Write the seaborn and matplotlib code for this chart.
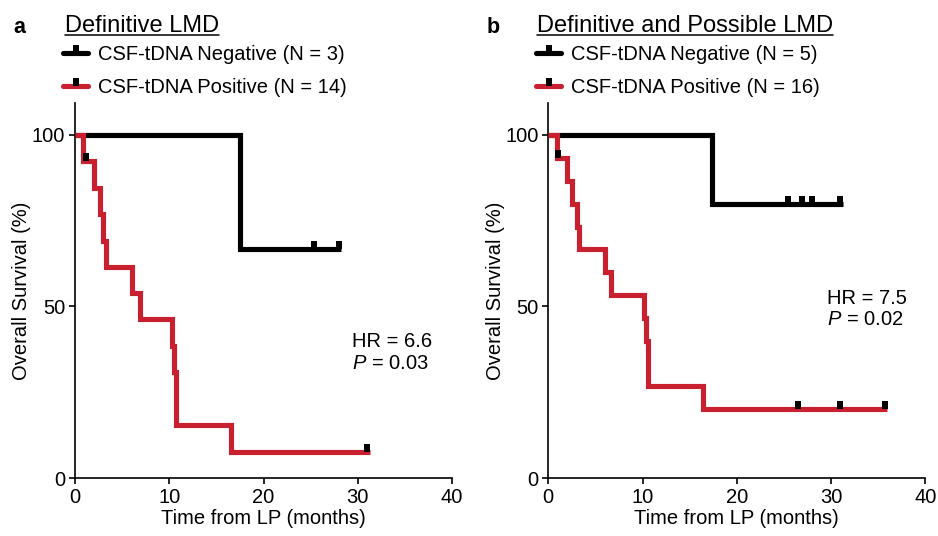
import numpy as np
import pandas as pd
import matplotlib
matplotlib.use("Agg")
import matplotlib.pyplot as plt
import seaborn as sns
from matplotlib.lines import Line2D

# ---------------------------------------------------------------
# Kaplan-Meier curves (time in months, survival %)
# ---------------------------------------------------------------
# panel a - Definitive LMD
a_neg_t = [0, 17.5, 28.2]
a_neg_s = [100, 66.7, 66.7]
a_neg_cens_t = [25.4, 28.0]
a_neg_cens_s = [66.7, 66.7]

a_pos_t = [0, 0.9, 2.05, 2.6, 3.0, 3.3, 6.0, 6.9, 10.3, 10.5, 10.7, 16.5, 31.3]
a_pos_s = [100, 92.3, 84.6, 76.9, 69.2, 61.5, 53.8, 46.2, 38.5, 30.8, 15.4, 7.7, 7.7]
a_pos_cens_t = [1.2, 31.0]
a_pos_cens_s = [92.3, 7.7]

# panel b - Definitive and Possible LMD
b_neg_t = [0, 17.35, 31.3]
b_neg_s = [100, 80.0, 80.0]
b_neg_cens_t = [25.4, 26.9, 28.0, 31.0]
b_neg_cens_s = [80.0, 80.0, 80.0, 80.0]

b_pos_t = [0, 0.9, 1.95, 2.5, 3.0, 3.3, 6.0, 6.6, 10.2, 10.4, 10.6, 16.45, 35.9]
b_pos_s = [100, 93.3, 86.7, 80.0, 73.3, 66.7, 60.0, 53.3, 46.7, 40.0, 26.7, 20.0, 20.0]
b_pos_cens_t = [1.06, 26.5, 31.0, 35.7]
b_pos_cens_s = [93.3, 20.0, 20.0, 20.0]

panel_letters = ["a", "b"]
panel_titles = ["Definitive LMD", "Definitive and Possible LMD"]
neg_labels = ["CSF-tDNA Negative (N = 3)", "CSF-tDNA Negative (N = 5)"]
pos_labels = ["CSF-tDNA Positive (N = 14)", "CSF-tDNA Positive (N = 16)"]
hr_text = ["HR = 6.6", "HR = 7.5"]
p_text = ["$P$ = 0.03", "$P$ = 0.02"]
stat_pos = [(29.4, 39.7, 33.4), (29.55, 52.4, 46.1)]

RED = "#c8202f"
BLACK = "#000000"

sns.set_theme(style="ticks")
plt.rcParams["font.family"] = ["Liberation Sans", "DejaVu Sans"]
plt.rcParams["mathtext.fontset"] = "custom"
plt.rcParams["mathtext.rm"] = "Liberation Sans"
plt.rcParams["mathtext.it"] = "Liberation Sans:italic"
plt.rcParams["axes.edgecolor"] = "black"
plt.rcParams["xtick.color"] = "black"
plt.rcParams["ytick.color"] = "black"
plt.rcParams["text.color"] = "black"
plt.rcParams["axes.labelcolor"] = "black"

# censor tick: small square sitting on top of the line
cens_marker = [(-3.15, 0), (3.15, 0), (3.15, 8.2), (-3.15, 8.2)]
cens_ms = 11.8

FS = 14.5
LW = 3.7
fig = plt.figure(figsize=(9.38, 5.36), dpi=100)
ax_a = fig.add_axes([75 / 938, 58 / 536, 377 / 938, 375 / 536])
ax_b = fig.add_axes([548.3 / 938, 58 / 536, 377 / 938, 375 / 536])

panels = [
    (ax_a, a_neg_t, a_neg_s, a_neg_cens_t, a_neg_cens_s, a_pos_t, a_pos_s, a_pos_cens_t, a_pos_cens_s),
    (ax_b, b_neg_t, b_neg_s, b_neg_cens_t, b_neg_cens_s, b_pos_t, b_pos_s, b_pos_cens_t, b_pos_cens_s),
]

for i, (ax, nt, ns, nct, ncs, pt, ps, pct, pcs) in enumerate(panels):
    sns.lineplot(x=nt, y=ns, ax=ax, drawstyle="steps-post", color=BLACK, lw=LW,
                 estimator=None, sort=False, solid_joinstyle="miter", solid_capstyle="butt",
                 zorder=2)
    sns.lineplot(x=pt, y=ps, ax=ax, drawstyle="steps-post", color=RED, lw=LW,
                 estimator=None, sort=False, solid_joinstyle="miter", solid_capstyle="butt",
                 zorder=3)
    sns.scatterplot(x=nct + pct, y=ncs + pcs, ax=ax, marker=cens_marker, s=cens_ms ** 2,
                    color=BLACK, linewidth=0, zorder=4)

    ax.set_xlim(0, 40)
    ax.set_ylim(0, 109.3)
    ax.set_xticks([0, 10, 20, 30, 40])
    ax.set_yticks([0, 50, 100])
    ax.tick_params(labelsize=FS, length=4, width=1.2, direction="out", pad=3)
    for sp in ["top", "right"]:
        ax.spines[sp].set_visible(False)
    for sp in ["left", "bottom"]:
        ax.spines[sp].set_linewidth(1.2)
    ax.set_xlabel("Time from LP (months)", fontsize=FS, labelpad=2)
    ax.set_ylabel("Overall Survival (%)", fontsize=FS, labelpad=0.5)

    sx, sy1, sy2 = stat_pos[i]
    ax.text(sx, sy1, hr_text[i], fontsize=FS, va="center", ha="left")
    ax.text(sx, sy2, p_text[i], fontsize=FS, va="center", ha="left")

    handles = [
        Line2D([], [], color=BLACK, lw=LW, marker=cens_marker, markersize=cens_ms,
               markerfacecolor=BLACK, markeredgewidth=0, solid_capstyle="round"),
        Line2D([], [], color=RED, lw=LW, marker=cens_marker, markersize=cens_ms,
               markerfacecolor=BLACK, markeredgewidth=0, solid_capstyle="round"),
    ]
    left_px = [63, 536][i]
    ax.legend(handles, [neg_labels[i], pos_labels[i]], loc="upper left",
              bbox_to_anchor=(left_px / 938, 1 - 45 / 536), bbox_transform=fig.transFigure,
              frameon=False, borderpad=0, borderaxespad=0, fontsize=FS,
              handlelength=1.25, handletextpad=0.5, labelspacing=0.7, numpoints=1)

# panel letters and underlined titles
title_objs = []
for i in range(2):
    lx = [13, 487][i]
    tx = [65, 537][i]
    fig.text(lx / 938, 1 - 33.3 / 536, panel_letters[i], fontsize=15.5, fontweight="bold",
             va="baseline", ha="left")
    title_objs.append(fig.text(tx / 938, 1 - 32.5 / 536, panel_titles[i], fontsize=17,
                               va="baseline", ha="left"))

fig.canvas.draw()
renderer = fig.canvas.get_renderer()
for t in title_objs:
    bb = t.get_window_extent(renderer)
    y = 1 - 35 / 536
    fig.add_artist(Line2D([bb.x0 / 938, bb.x1 / 938], [y, y], transform=fig.transFigure,
                          color="black", lw=1.1))

fig.savefig("out.png", dpi=100, facecolor="white")
